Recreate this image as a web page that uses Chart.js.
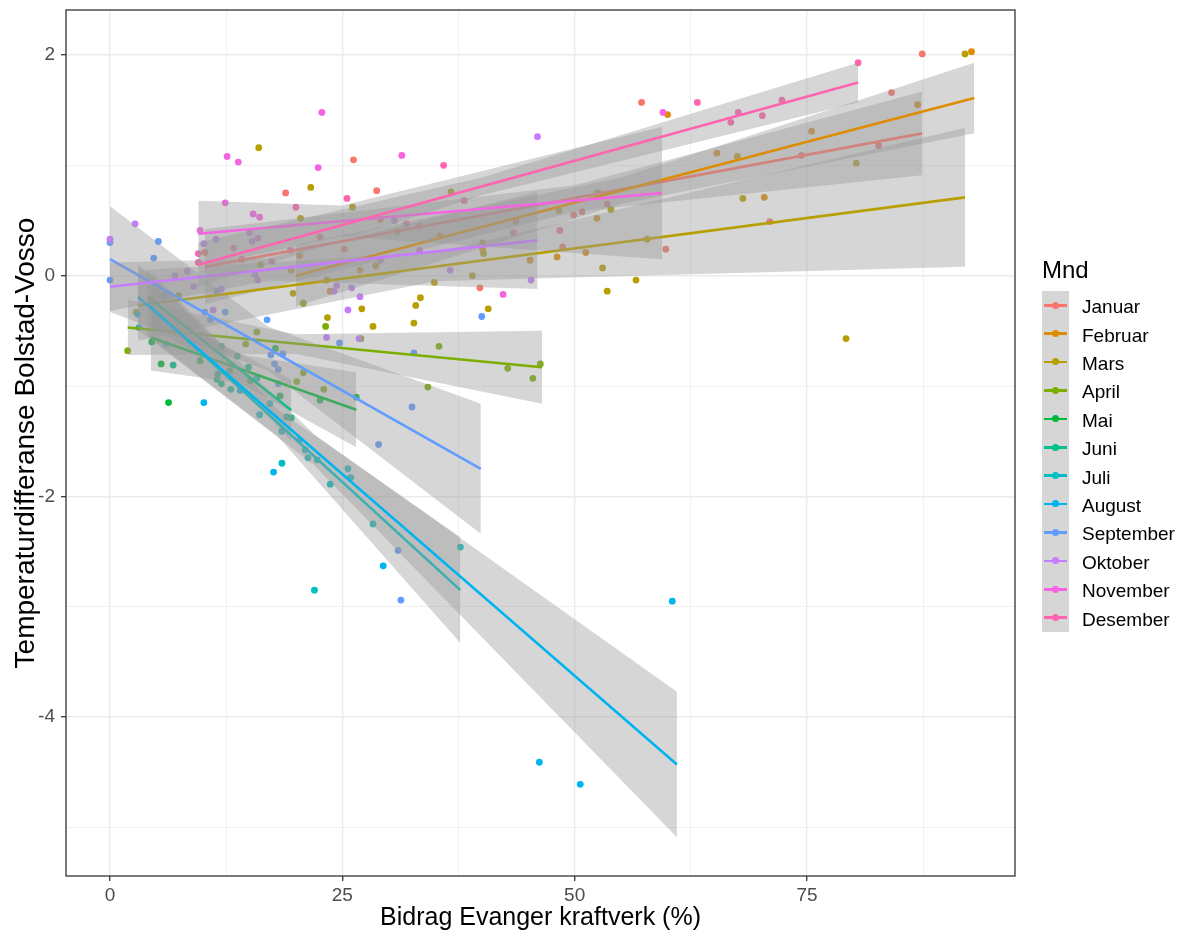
<!DOCTYPE html>
<html><head><meta charset="utf-8">
<script src="https://cdn.jsdelivr.net/npm/chart.js@4.4.0/dist/chart.umd.min.js"></script>
<style>
html,body{margin:0;padding:0;background:#fff;}
#wrap{position:relative;width:1186px;height:932px;overflow:hidden;font-family:"Liberation Sans",Arial,sans-serif;}
#c{position:absolute;left:0;top:0;}
#ltitle{position:absolute;left:1042px;top:258px;font-size:24px;line-height:24px;color:#000;}
.row{position:absolute;left:1042px;height:28.4px;display:flex;align-items:center;}
.key{position:relative;width:27px;height:28.4px;background:#D6D6D6;display:inline-block;}
.kl{position:absolute;left:2px;right:2px;top:13px;height:2.6px;}
.kd{position:absolute;left:10px;top:10.7px;width:7px;height:7px;border-radius:50%;}
.lab{position:absolute;left:40px;font-size:19px;color:#000;white-space:nowrap;transform:translateY(2px);}
</style></head>
<body><div id="wrap"><canvas id="c" width="1186" height="932"></canvas><div id="ltitle">Mnd</div><div id="legend"></div></div>
<script>
const months = ['Januar','Februar','Mars','April','Mai','Juni','Juli','August','September','Oktober','November','Desember'];
const colors = ['#F8766D','#DE8C00','#B79F00','#7CAE00','#00BA38','#00C08B','#00BFC4','#00B4F0','#619CFF','#C77CFF','#F564E3','#FF64B0'];

const xTicks = [0,12.5,25,37.5,50,62.5,75,87.5];
const yTicks = [-5,-4,-3,-2,-1,0,1,2];

// observed points per month
const ptX = [
 [87.4,57.2,84.1,82.7,74.4,71.0,59.8,53.5,49.9,50.8,48.7,43.4,43.7,39.8,29.1,25.2,28.7,26.2,18.9,10.2,22.6,33.3],
 [92.7,60.0,86.9,75.5,65.3,70.4,52.4,48.1,51.2,40.1,20.4,23.7,26.9,35.5,45.2],
 [92.0,80.3,79.2,68.1,67.5,57.8,56.6,53.5,53.0,52.5,53.9,48.3,40.2,40.1,40.7,39.0,36.7,34.9,33.4,32.9,32.7,30.9,28.6,28.3,27.1,26.1,23.3,23.4,21.6,20.5,19.7,19.5,16.2,16.0,2.8],
 [1.9,46.3,45.5,42.8,35.4,34.2,23.0,20.8,23.2,20.8,20.1,15.8,14.6,7.4,4.4,27.0],
 [5.5,6.3,26.5,17.8,9.7,12.9,15.1,18.3,22.6,4.5],
 [6.8,5.8,12.0,13.7,14.9,11.6,11.5,12.0,13.0,19.5,19.0,4.5],
 [3.1,22.0,18.5,18.5,21.0,21.3,22.3,25.6,25.9,23.7,28.3,37.7,15.8,17.2,16.1],
 [10.1,17.6,29.4,60.5,46.2,50.6,14.0,20.4,3.0,6.0],
 [0,0,5.2,4.7,10.2,10.8,12.4,11.5,16.9,17.7,18.1,18.6,18.1,24.7,32.7,32.5,28.9,31.0,31.3,40.0,17.3],
 [0,2.7,10.1,11.4,8.3,7.0,9.0,12.0,11.1,15.0,15.3,15.6,15.9,24.1,24.4,25.6,26.0,26.9,26.8,23.3,30.6,29.1,36.6,45.3,46.0],
 [22.8,12.6,13.8,22.4,31.4,59.5,42.3,15.9,12.4,15.4,16.1,9.7,19.4,33.3],
 [80.5,63.2,35.9,72.3,67.6,70.2,66.8,25.5,20.0,38.1,9.5,9.5,14.2,17.4,13.3,31.9,48.4]
];
const ptY = [
 [2.01,1.57,1.66,1.18,1.09,0.49,0.24,0.65,0.55,0.58,0.26,0.39,0.49,-0.11,0.51,0.24,0.77,1.05,0.75,0.21,0.35,0.45],
 [2.03,1.46,1.55,1.31,1.11,0.71,0.52,0.17,0.21,0.24,0.18,-0.14,0.05,0.36,0.14],
 [2.01,1.02,-0.57,0.70,1.08,0.33,-0.04,-0.14,0.07,0.75,0.60,0.59,0.20,0.30,-0.30,0.0,0.76,-0.06,-0.20,-0.27,-0.43,0.40,0.09,-0.46,-0.30,0.62,-0.04,-0.38,0.80,0.52,-0.16,0.05,0.10,1.16,-0.33],
 [-0.68,-0.80,-0.93,-0.84,-0.64,-1.01,-1.03,-0.88,-0.46,-0.25,-0.96,-0.51,-0.62,-0.18,-0.21,-0.57],
 [-0.80,-1.15,-1.10,-0.66,-0.77,-0.86,-0.95,-1.09,-1.13,-0.60],
 [-0.81,-0.18,-0.64,-0.73,-0.83,-0.89,-0.94,-0.98,-1.03,-1.29,-1.28,-0.25],
 [-0.47,-2.85,-1.70,-1.41,-1.58,-1.65,-1.67,-1.75,-1.83,-1.89,-2.25,-2.46,-0.93,-1.16,-1.26],
 [-1.15,-1.78,-2.63,-2.95,-4.41,-4.61,-1.04,-1.49,-0.35,-0.62],
 [0.30,-0.04,0.31,0.16,-0.33,-0.40,-0.33,-0.14,-0.40,-0.80,-0.85,-0.71,-0.98,-0.61,-0.70,-1.19,-1.53,-2.49,-2.94,-0.37,-0.72],
 [0.33,0.47,0.29,0.33,0.04,0.0,-0.10,-0.12,-0.31,0.39,0.31,0.01,-0.04,-0.14,-0.09,-0.31,-0.11,-0.19,-0.57,-0.56,0.50,0.14,0.05,-0.04,1.26],
 [1.48,1.08,1.03,0.98,1.09,1.48,-0.17,0.34,0.66,0.56,0.53,0.41,0.23,0.23],
 [1.93,1.57,1.00,1.59,1.48,1.45,1.39,0.70,0.62,0.68,0.20,0.12,0.15,0.13,0.25,0.47,0.41]
];

// fitted regression lines (start, end)
const fitX = [[10.2,87.4],[20,93],[3,92],[1.9,46.5],[4.4,26.5],[4.5,19.5],[4,37.7],[3,61],[0,39.9],[0,46],[9.5,59.4],[9.5,80.5]];
const fitY = [[0.08,1.29],[0.0,1.61],[-0.27,0.71],[-0.47,-0.83],[-0.56,-1.215],[-0.22,-1.22],[-0.25,-2.85],[-0.19,-4.43],[0.15,-1.75],[-0.10,0.32],[0.38,0.75],[0.10,1.75]];

// confidence bands (start, middle, end)
const bandX = [[10.2,50,87.4],[20,55,93],[3,35,92],[1.9,20,46.5],[4.4,14,26.5],[4.5,12,19.5],[4,18,37.7],[3,22,61],[0,17,39.9],[0,17,46],[9.5,25,59.4],[9.5,40,80.5]];
const bandLo = [[-0.26,0.58,0.91],[-0.28,0.65,1.29],[-0.59,-0.05,0.08],[-0.72,-0.71,-1.16],[-0.86,-0.975,-1.555],[-0.47,-0.82,-1.50],[-0.55,-1.45,-3.33],[-0.49,-1.72,-5.09],[-0.33,-0.86,-2.34],[-0.32,-0.045,-0.12],[0.08,0.355,0.15],[-0.10,0.73,1.57]];
const bandHi = [[0.42,0.82,1.67],[0.28,0.89,1.93],[0.05,0.21,1.34],[-0.22,-0.53,-0.50],[-0.26,-0.715,-0.875],[0.03,-0.62,-0.94],[0.05,-1.21,-2.37],[0.11,-1.44,-3.77],[0.63,-0.46,-1.16],[0.12,0.155,0.76],[0.68,0.635,1.35],[0.30,0.89,1.93]];

const zip = (xs, ys) => xs.map((x, i) => ({x: x, y: ys[i]}));

const datasets = [];
let drawIdx = 0;
const nextOrder = () => 1000 - (drawIdx++);

months.forEach((m, i) => {
  datasets.push({label: m, data: zip(ptX[i], ptY[i]), backgroundColor: colors[i], borderWidth: 0,
    pointRadius: 3.4, pointHoverRadius: 3.4, showLine: false, order: nextOrder()});
});
months.forEach((m, i) => {
  const upIdx = datasets.length;
  datasets.push({label: m + ' hi', data: zip(bandX[i], bandHi[i]), showLine: true, borderColor: 'rgba(0,0,0,0)',
    borderWidth: 0, pointRadius: 0, fill: false, order: nextOrder()});
  datasets.push({label: m + ' lo', data: zip(bandX[i], bandLo[i]), showLine: true, borderColor: 'rgba(0,0,0,0)',
    borderWidth: 0, pointRadius: 0, fill: upIdx, backgroundColor: 'rgba(153,153,153,0.4)', order: nextOrder()});
  datasets.push({label: m + ' fit', data: zip(fitX[i], fitY[i]), showLine: true, borderColor: colors[i],
    borderWidth: 2.6, pointRadius: 0, fill: false, order: nextOrder()});
});

const panelBorder = {id: 'panelBorder', afterDraw(chart) {
  const {ctx, chartArea: a} = chart;
  ctx.save(); ctx.strokeStyle = '#333333'; ctx.lineWidth = 1.3;
  ctx.strokeRect(a.left, a.top, a.right - a.left, a.bottom - a.top); ctx.restore();
}};

const FONT = '"Liberation Sans", Arial, sans-serif';
const xMajor = v => Math.abs(v % 25) < 1e-9;
const yMajor = v => Math.abs(v % 2) < 1e-9;

new Chart(document.getElementById('c'), {
  type: 'scatter',
  data: {datasets},
  options: {
    responsive: false, animation: false, devicePixelRatio: 1,
    layout: {padding: {left: 0, right: 171, top: 10, bottom: 0}},
    plugins: {legend: {display: false}, tooltip: {enabled: false}, filler: {drawTime: 'beforeDatasetDraw'}},
    scales: {
      x: {type: 'linear', min: -4.735, max: 97.38,
        afterBuildTicks: s => { s.ticks = xTicks.map(v => ({value: v})); },
        afterFit: s => { s.height = 56; s.paddingLeft = 0; s.paddingRight = 0; },
        border: {display: false},
        grid: {color: '#EBEBEB', lineWidth: c => xMajor(c.tick.value) ? 1.4 : 0.7,
          tickColor: c => xMajor(c.tick.value) ? '#333333' : 'rgba(0,0,0,0)', tickLength: 5, tickWidth: 1.3},
        ticks: {autoSkip: false, maxRotation: 0, padding: 3, color: '#4D4D4D', font: {family: FONT, size: 19},
          callback: v => xMajor(v) ? String(v) : ''},
        title: {display: true, text: 'Bidrag Evanger kraftverk (%)', color: '#000', font: {family: FONT, size: 25},
          padding: {top: 2, bottom: -1}}
      },
      y: {type: 'linear', min: -5.441, max: 2.408,
        afterBuildTicks: s => { s.ticks = yTicks.map(v => ({value: v})); },
        afterFit: s => { s.width = 66; s.paddingTop = 0; s.paddingBottom = 0; },
        border: {display: false},
        grid: {color: '#EBEBEB', lineWidth: c => yMajor(c.tick.value) ? 1.4 : 0.7,
          tickColor: c => yMajor(c.tick.value) ? '#333333' : 'rgba(0,0,0,0)', tickLength: 5, tickWidth: 1.3},
        ticks: {autoSkip: false, padding: 6, color: '#4D4D4D', font: {family: FONT, size: 19},
          callback: v => yMajor(v) ? String(v) : ''},
        title: {display: true, text: 'Temperaturdifferanse Bolstad-Vosso', color: '#000', font: {family: FONT, size: 28},
          padding: {top: 9, bottom: 0}}
      }
    }
  },
  plugins: [panelBorder]
});

const legend = document.getElementById('legend');
months.forEach((m, i) => {
  const row = document.createElement('div');
  row.className = 'row';
  row.style.top = (291 + i * 28.4) + 'px';
  row.innerHTML = '<span class="key"><span class="kl" style="background:' + colors[i] + '"></span><span class="kd" style="background:' + colors[i] + '"></span></span><span class="lab">' + m + '</span>';
  legend.appendChild(row);
});
</script>
</body></html>
